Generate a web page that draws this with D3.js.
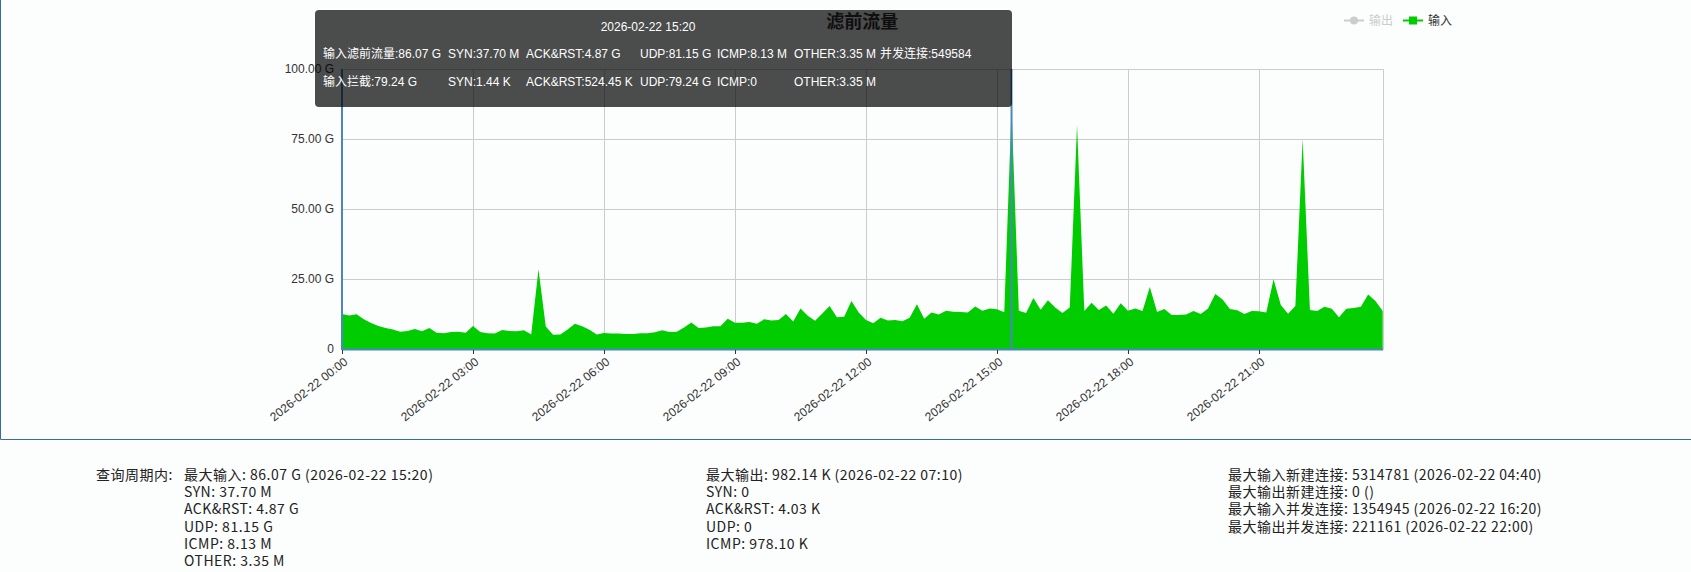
<!DOCTYPE html>
<html>
<head>
<meta charset="utf-8">
<script src="https://cdn.jsdelivr.net/npm/d3@7"></script>
<style>
  html, body { margin: 0; padding: 0; background: #fcfdfd; }
  svg { display: block; }
</style>
</head>
<body>
<svg id="chart" width="1691" height="572"></svg>
<script>
// ---------------- data ----------------
const startTime = "2026-02-22 00:00";
const stepMinutes = 10;
const inputValues = [ // G, every 10 minutes
  12.5, 12.0, 12.4, 10.6, 9.3, 8.2, 7.5, 7.0, 6.2, 6.4, 7.1, 6.3, 7.5, 5.8, 5.6, 6.1, 6.2, 5.8,
  8.2, 6.1, 5.6, 5.5, 6.8, 6.4, 6.3, 6.7, 5.2, 28.5, 8.0, 5.1, 5.2, 7.0, 9.0, 8.1, 6.9, 5.2,
  5.7, 5.5, 5.5, 5.4, 5.4, 5.6, 5.6, 6.0, 6.7, 6.1, 6.2, 7.7, 9.5, 7.5, 7.7, 8.1, 8.1, 10.8,
  9.4, 9.4, 9.6, 9.0, 10.6, 10.2, 10.4, 12.5, 9.8, 14.5, 11.9, 10.1, 12.7, 15.4, 11.3, 11.5, 17.1, 13.0,
  10.4, 9.2, 11.2, 10.2, 10.4, 9.9, 11.2, 16.0, 10.8, 13.0, 12.3, 13.7, 13.3, 13.2, 13.0, 15.2, 13.7, 14.5,
  14.2, 13.1, 86.07, 13.7, 12.9, 18.2, 14.0, 17.4, 14.8, 12.9, 14.8, 80.0, 13.6, 16.5, 13.9, 15.5, 12.6, 16.3,
  13.7, 14.5, 13.6, 22.1, 13.2, 14.3, 12.1, 12.1, 12.3, 13.6, 12.5, 14.5, 19.6, 17.7, 14.3, 13.8, 12.5, 13.6,
  13.5, 13.0, 24.9, 15.7, 12.6, 15.4, 75.0, 13.9, 13.6, 15.1, 14.4, 11.3, 14.4, 14.6, 15.1, 19.5, 17.1, 13.6
];
const yTickValues = [0, 25, 50, 75, 100];
const yTickLabels = ["0", "25.00 G", "50.00 G", "75.00 G", "100.00 G"];
const xTickLabels = ["2026-02-22 00:00", "2026-02-22 03:00", "2026-02-22 06:00", "2026-02-22 09:00",
                     "2026-02-22 12:00", "2026-02-22 15:00", "2026-02-22 18:00", "2026-02-22 21:00"];
const titleText = "滤前流量";
const legendNames = ["输出", "输入"];
const cursorTime = "2026-02-22 15:20";
const tooltipTitle = "2026-02-22 15:20";
const tooltipRow1 = ["输入滤前流量:86.07 G", "SYN:37.70 M", "ACK&RST:4.87 G", "UDP:81.15 G", "ICMP:8.13 M", "OTHER:3.35 M", "并发连接:549584"];
const tooltipRow2 = ["输入拦截:79.24 G", "SYN:1.44 K", "ACK&RST:524.45 K", "UDP:79.24 G", "ICMP:0", "OTHER:3.35 M", ""];
const statsLabel = "查询周期内:";
const statsCol1 = ["最大输入: 86.07 G (2026-02-22 15:20)", "SYN: 37.70 M", "ACK&RST: 4.87 G", "UDP: 81.15 G", "ICMP: 8.13 M", "OTHER: 3.35 M"];
const statsCol2 = ["最大输出: 982.14 K (2026-02-22 07:10)", "SYN: 0", "ACK&RST: 4.03 K", "UDP: 0", "ICMP: 978.10 K"];
const statsCol3 = ["最大输入新建连接: 5314781 (2026-02-22 04:40)", "最大输出新建连接: 0 ()", "最大输入并发连接: 1354945 (2026-02-22 16:20)", "最大输出并发连接: 221161 (2026-02-22 22:00)"];

// ---------------- setup ----------------
const parse = d3.timeParse("%Y-%m-%d %H:%M");
const t0 = parse(startTime);
const series = inputValues.map((v, i) => ({ t: d3.timeMinute.offset(t0, i * stepMinutes), v }));
const svg = d3.select("#chart");
const latin = "'Liberation Sans', Arial, 'Noto Sans CJK SC', sans-serif";
const cjk = "'Noto Sans CJK SC', 'Liberation Sans', sans-serif";

const plot = { left: 342, right: 1382.7, top: 69, bottom: 349 };
const x = d3.scaleTime().domain([series[0].t, series[series.length - 1].t]).range([plot.left, plot.right]);
const y = d3.scaleLinear().domain([0, 100]).range([plot.bottom, plot.top]);

// panel border
svg.append("path")
  .attr("d", `M0.5,-2 V439.5 H1691`)
  .attr("fill", "none").attr("stroke", "#3b6c9c").attr("stroke-width", 1);

// grid
const xTicks = xTickLabels.map(s => parse(s));
svg.append("g").selectAll("line.h").data(yTickValues.slice(1)).join("line")
  .attr("x1", plot.left).attr("x2", plot.right)
  .attr("y1", d => Math.round(y(d)) + 0.5).attr("y2", d => Math.round(y(d)) + 0.5)
  .attr("stroke", "#cccccc").attr("stroke-width", 1);
svg.append("g").selectAll("line.v").data(xTicks.slice(1).concat([series[series.length - 1].t])).join("line")
  .attr("x1", d => Math.round(x(d)) + 0.5).attr("x2", d => Math.round(x(d)) + 0.5)
  .attr("y1", plot.top).attr("y2", plot.bottom)
  .attr("stroke", "#cccccc").attr("stroke-width", 1);

// area
const area = d3.area().x(d => x(d.t)).y0(y(0)).y1(d => y(d.v));
svg.append("path").datum(series).attr("d", area).attr("fill", "#00cc00");

// axes lines
svg.append("line").attr("x1", plot.left).attr("x2", plot.right + 0.5)
  .attr("y1", plot.bottom + 0.5).attr("y2", plot.bottom + 0.5)
  .attr("stroke", "#4a86bf").attr("stroke-width", 2);
svg.append("line").attr("x1", plot.left).attr("x2", plot.left)
  .attr("y1", plot.top).attr("y2", plot.bottom + 1)
  .attr("stroke", "#4a86bf").attr("stroke-width", 2);

// x ticks & labels
const xg = svg.append("g");
xg.selectAll("line").data(xTicks).join("line")
  .attr("x1", d => Math.round(x(d)) + 0.5).attr("x2", d => Math.round(x(d)) + 0.5)
  .attr("y1", plot.bottom + 1).attr("y2", plot.bottom + 5)
  .attr("stroke", "#333").attr("stroke-width", 1);
xg.selectAll("text").data(xTicks).join("text")
  .attr("transform", d => `translate(${x(d) + 4},${plot.bottom + 11}) rotate(-38)`)
  .attr("text-anchor", "end").attr("dy", "0.35em")
  .attr("font-family", latin).attr("font-size", 12).attr("fill", "#333")
  .text((d, i) => xTickLabels[i]);

// y labels
svg.append("g").selectAll("text").data(yTickValues).join("text")
  .attr("x", 334).attr("y", d => y(d)).attr("dy", "0.35em")
  .attr("text-anchor", "end").attr("font-family", latin).attr("font-size", 12).attr("fill", "#333")
  .text((d, i) => yTickLabels[i]);

// cursor line
const ct = parse(cursorTime);
svg.append("line").attr("x1", x(ct)).attr("x2", x(ct))
  .attr("y1", plot.top).attr("y2", plot.bottom)
  .attr("stroke", "#4a86bf").attr("stroke-width", 2);

// title
svg.append("text").attr("x", (plot.left + plot.right) / 2).attr("y", 22).attr("dy", "0.35em")
  .attr("text-anchor", "middle").attr("font-family", cjk).attr("font-weight", "bold")
  .attr("font-size", 18).attr("fill", "#333").text(titleText);

// legend
const lg = svg.append("g");
lg.append("line").attr("x1", 1344).attr("x2", 1364).attr("y1", 20.5).attr("y2", 20.5).attr("stroke", "#cccccc").attr("stroke-width", 2);
lg.append("circle").attr("cx", 1354).attr("cy", 20.5).attr("r", 4).attr("fill", "#cccccc");
lg.append("text").attr("x", 1369).attr("y", 20.5).attr("dy", "0.35em").attr("font-family", cjk).attr("font-size", 12).attr("fill", "#cccccc").text(legendNames[0]);
lg.append("line").attr("x1", 1403).attr("x2", 1423).attr("y1", 20.5).attr("y2", 20.5).attr("stroke", "#00cc00").attr("stroke-width", 2);
lg.append("rect").attr("x", 1409).attr("y", 16.5).attr("width", 8).attr("height", 8).attr("fill", "#00cc00");
lg.append("text").attr("x", 1428).attr("y", 20.5).attr("dy", "0.35em").attr("font-family", cjk).attr("font-size", 12).attr("fill", "#333").text(legendNames[1]);

// tooltip
const tt = svg.append("g");
tt.append("rect").attr("x", 315).attr("y", 10).attr("width", 697).attr("height", 97).attr("rx", 4)
  .attr("fill", "rgba(0,0,0,0.7)");
tt.append("text").attr("x", 648).attr("y", 27).attr("dy", "0.35em").attr("text-anchor", "middle")
  .attr("font-family", latin).attr("font-size", 12).attr("fill", "#fff").text(tooltipTitle);
const colX = [323, 448, 526, 640, 717, 794, 880];
[tooltipRow1, tooltipRow2].forEach((row, r) => {
  tt.append("g").selectAll("text").data(row).join("text")
    .attr("x", (d, i) => colX[i]).attr("y", 54 + r * 27.5).attr("dy", "0.35em")
    .attr("font-family", latin).attr("font-size", 12).attr("fill", "#fff").text(d => d);
});

// stats
const st = svg.append("g").attr("font-family", cjk).attr("font-size", 14).attr("fill", "#222")
  .attr("letter-spacing", "0.5px");
const rowY = i => 475 + i * 17.2;
st.append("text").attr("x", 96).attr("y", rowY(0)).attr("dy", "0.35em").text(statsLabel);
[[184, statsCol1], [706, statsCol2], [1228, statsCol3]].forEach(([cx, col]) => {
  st.append("g").selectAll("text").data(col).join("text")
    .attr("x", cx).attr("y", (d, i) => rowY(i)).attr("dy", "0.35em").text(d => d);
});
</script>
</body>
</html>
